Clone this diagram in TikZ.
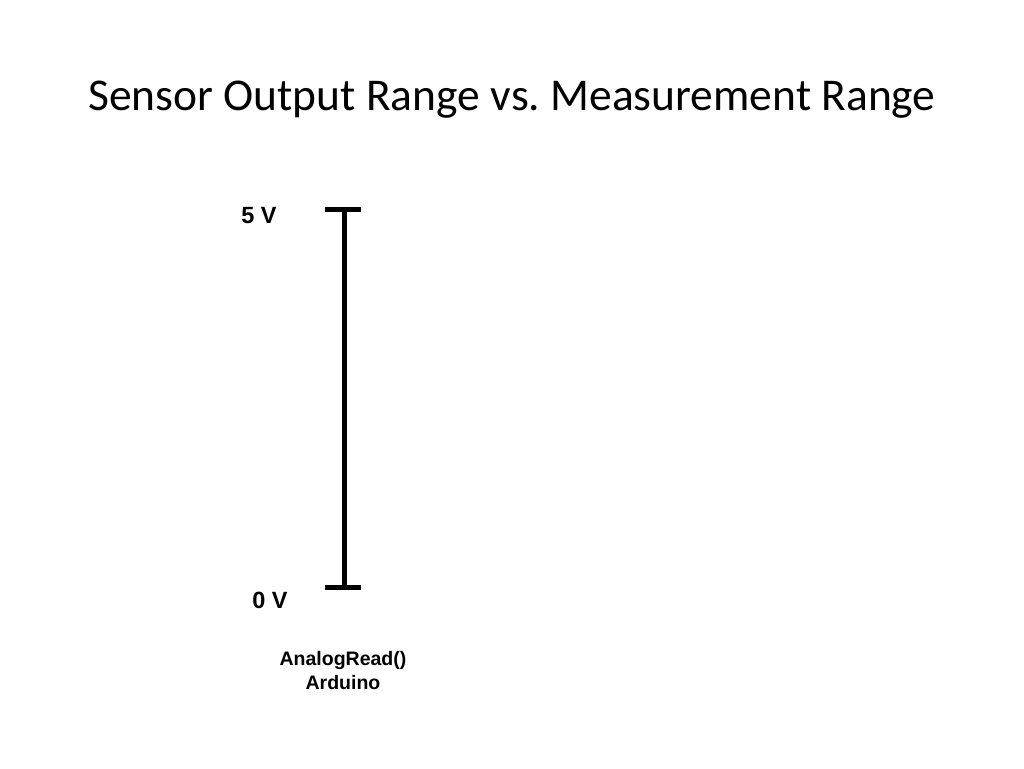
\documentclass[tikz,border=0pt]{standalone}
\usepackage{fontspec}
\setmainfont{Liberation Sans}
\newfontfamily\titlefont{Carlito}
\frenchspacing
\begin{document}
\begin{tikzpicture}[x=1pt,y=-1pt,
  lbl/.style={font=\fontsize{23.5}{28}\selectfont\bfseries, inner sep=0pt},
  small/.style={font=\fontsize{19.5}{24}\selectfont\bfseries, inner sep=0pt, align=center},
  bar/.style={line width=5pt}]
\useasboundingbox[fill=white] (0,0) rectangle (1024,768);
\node[font=\titlefont\fontsize{45.5}{54}\selectfont, inner sep=0pt] (title) at (512,100) {Sensor Output Range vs. Measurement Range};
\coordinate (top) at (344,209);
\coordinate (bot) at (344,587);
\coordinate (tl) at (325,209);
\coordinate (tr) at (361,209);
\coordinate (bl) at (325,587);
\coordinate (br) at (361,587);
\draw[bar] (top) -- (bot);
\draw[bar] (tl) -- (tr);
\draw[bar] (bl) -- (br);
\node[lbl] (five) at (259,216) {5 V};
\node[lbl] (zero) at (270,600) {0 V};
\node[small] (ar) at (343,671) {AnalogRead()\\Arduino};
\end{tikzpicture}
\end{document}
